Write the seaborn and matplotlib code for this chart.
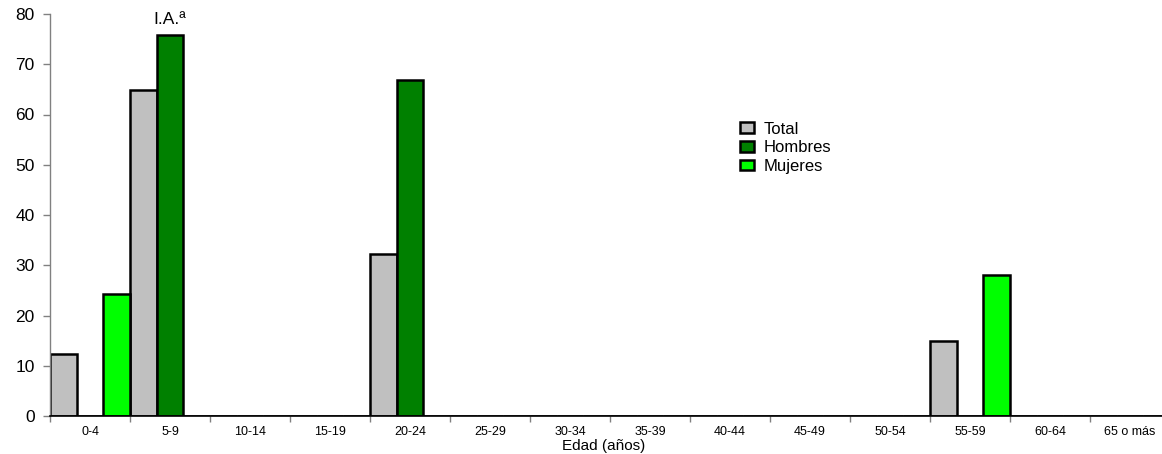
import matplotlib
matplotlib.use("Agg")
import matplotlib.pyplot as plt
import seaborn as sns
import pandas as pd
from matplotlib.patches import Patch

# Age groups and rates per sex
grupos = ["0-4", "5-9", "10-14", "15-19", "20-24", "25-29", "30-34", "35-39",
          "40-44", "45-49", "50-54", "55-59", "60-64", "65 o más"]
total = [12.3, 64.9, 0, 0, 32.2, 0, 0, 0, 0, 0, 0, 15.0, 0, 0]
hombres = [0, 75.9, 0, 0, 66.8, 0, 0, 0, 0, 0, 0, 0, 0, 0]
mujeres = [24.3, 0, 0, 0, 0, 0, 0, 0, 0, 0, 0, 28.1, 0, 0]
series = ["Total", "Hombres", "Mujeres"]
colores = ["#c0c0c0", "#008000", "#00ff00"]

df = pd.DataFrame({
    "grupo": grupos * 3,
    "serie": [s for s in series for _ in grupos],
    "valor": total + hombres + mujeres,
})

sns.set_theme(style="white")
plt.rcParams["font.family"] = ["Liberation Sans", "DejaVu Sans"]
plt.rcParams["text.color"] = "black"
plt.rcParams["xtick.color"] = "black"
plt.rcParams["ytick.color"] = "black"
plt.rcParams["axes.labelcolor"] = "black"

fig = plt.figure(figsize=(11.62, 4.54), dpi=100)
ax = fig.add_axes([50 / 1162, 1 - 416 / 454, 1120 / 1162, 402 / 454])

sns.barplot(data=df, x="grupo", y="valor", hue="serie", order=grupos,
            hue_order=series, palette=colores, saturation=1, width=1.0, gap=0,
            edgecolor="black", linewidth=1.8, legend=False, ax=ax)

ax.set_xlim(-0.5, len(grupos) - 0.5)
ax.set_ylim(0, 80)
ax.set_yticks(range(0, 81, 10))
ax.tick_params(axis="y", labelsize=12.5, length=5, width=1, color="#808080",
               labelcolor="black", left=True, pad=6)

# labels at group centres, tick marks at group boundaries
ax.set_xticks(range(len(grupos)))
ax.set_xticklabels(grupos, fontsize=9)
ax.tick_params(axis="x", which="major", length=0, pad=7, labelcolor="black")
ax.set_xticks([i - 0.5 for i in range(len(grupos) + 1)], minor=True)
ax.tick_params(axis="x", which="minor", length=4, width=1, color="#808080",
               bottom=True)

for s in ["top", "right"]:
    ax.spines[s].set_visible(False)
ax.spines["left"].set_color("#808080")
ax.spines["left"].set_linewidth(1)
ax.spines["bottom"].set_color("black")
ax.spines["bottom"].set_linewidth(1.2)

ax.set_xlabel("")
ax.set_ylabel("")
fig.text(604 / 1162, 1 / 454, "Edad (años)", ha="center", va="bottom",
         fontsize=11)

ax.text(1, 77.4, "I.A.ª", ha="center", va="bottom", fontsize=12.5)

handles = [Patch(facecolor=c, edgecolor="black", linewidth=1.8) for c in colores]
fig.legend(handles, series, loc="upper left",
           bbox_to_anchor=(728 / 1162, 1 - 110 / 454), frameon=False,
           fontsize=12, handlelength=0.85, handleheight=0.6,
           handletextpad=0.6, labelspacing=0.22, borderpad=0.2)

fig.savefig("out.png", dpi=100)
